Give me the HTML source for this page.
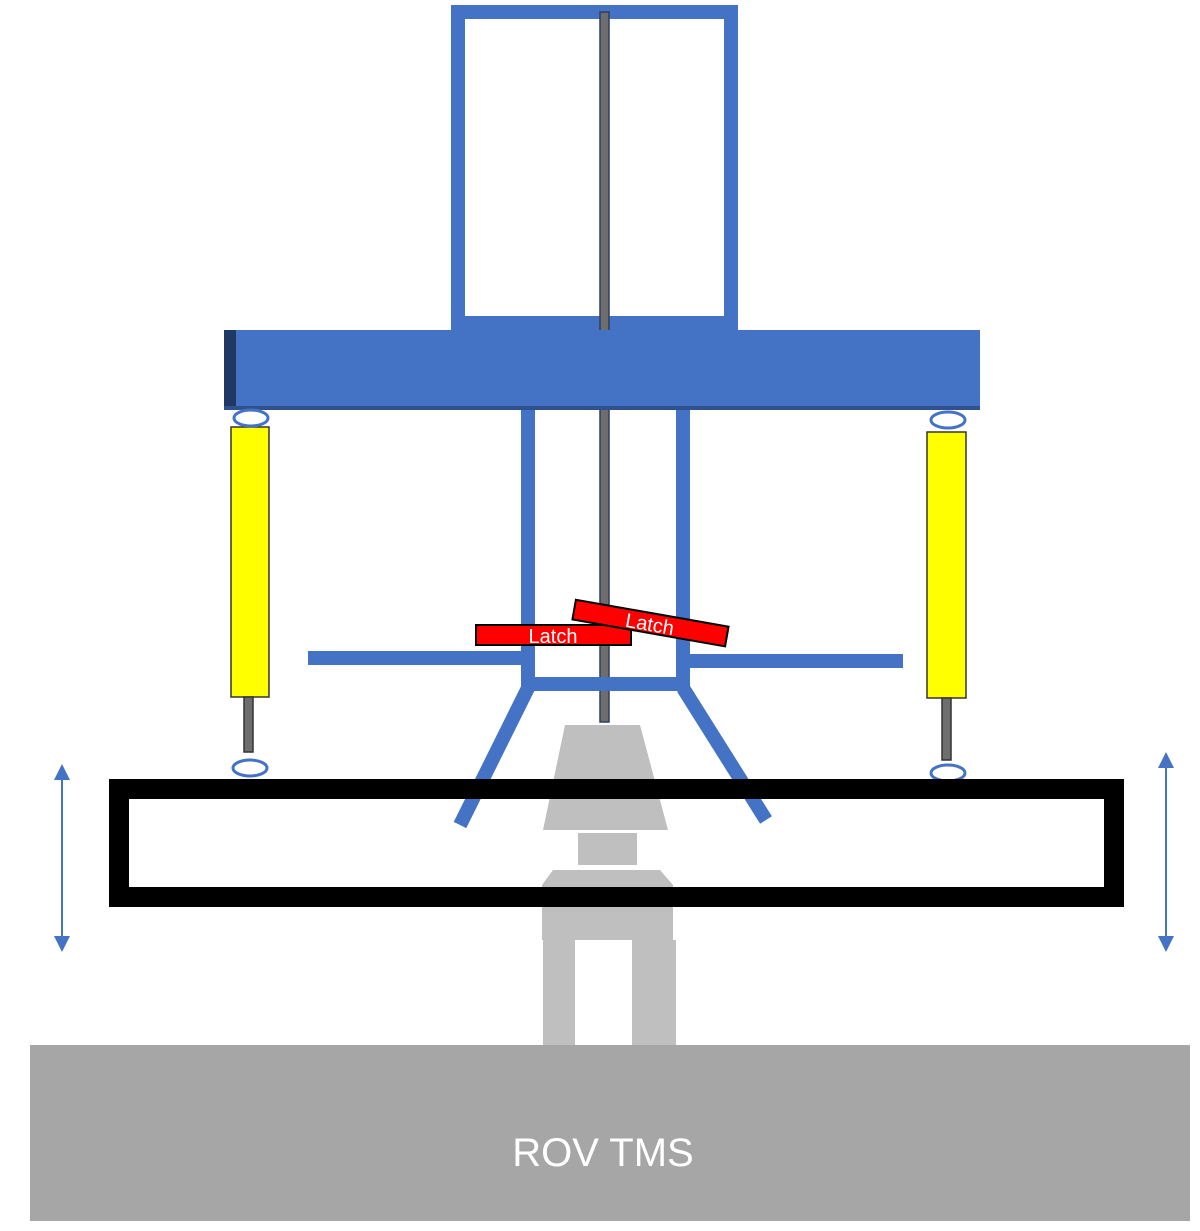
<!DOCTYPE html>
<html><head><style>body{margin:0;background:#fff}svg{display:block}</style></head><body>
<svg width="1200" height="1231" viewBox="0 0 1200 1231" xmlns="http://www.w3.org/2000/svg">
<defs><marker id="ah" markerWidth="8" markerHeight="8" refX="4" refY="4" orient="auto-start-reverse"><path d="M0,0 L8,4 L0,8 z" fill="#4472C4"/></marker></defs>
<!-- ground -->
<rect x="30" y="1045" width="1160" height="176" fill="#A6A6A6"/>
<text x="603" y="1166" font-family="Liberation Sans, sans-serif" font-size="40" fill="#fff" text-anchor="middle">ROV TMS</text>
<!-- gray stack -->
<g fill="#BFBFBF">
<polygon points="565,725 640,725 668,830 543,830"/>
<rect x="578" y="833" width="59" height="32"/>
<polygon points="553,870 660,870 673,885 673,940 542,940 542,885"/>
<rect x="543" y="940" width="32" height="105"/>
<rect x="632" y="940" width="44" height="105"/>
</g>
<!-- top box -->
<rect x="458" y="12" width="273" height="311" fill="none" stroke="#4472C4" stroke-width="14"/>
<!-- rod -->
<rect x="600" y="12" width="9" height="710" fill="#6E6E6E" stroke="#2F3F5F" stroke-width="1.5"/>
<!-- beam -->
<rect x="224" y="330" width="756" height="80" fill="#4472C4"/>
<rect x="224" y="330" width="12" height="80" fill="#1F3864"/>
<rect x="224" y="406" width="756" height="4" fill="#2F528F"/>
<!-- inner frame -->
<g stroke="#4472C4" stroke-width="14" fill="none">
<line x1="528" y1="410" x2="528" y2="690"/>
<line x1="683" y1="410" x2="683" y2="690"/>
<line x1="521" y1="684" x2="690" y2="684"/>
<line x1="528" y1="688" x2="460" y2="825"/>
<line x1="683" y1="688" x2="766" y2="820"/>
<line x1="308" y1="658" x2="528" y2="658"/>
<line x1="683" y1="661" x2="903" y2="661"/>
</g>
<!-- latches -->
<rect x="476" y="625" width="155" height="20" fill="#FF0000" stroke="#000" stroke-width="2"/>
<text x="553" y="643" font-family="Liberation Sans, sans-serif" font-size="20" fill="#fff" text-anchor="middle">Latch</text>
<g transform="rotate(10 650 623)">
<rect x="573" y="613" width="155" height="20" fill="#FF0000" stroke="#000" stroke-width="2"/>
<text x="650" y="631" font-family="Liberation Sans, sans-serif" font-size="20" fill="#fff" text-anchor="middle">Latch</text>
</g>
<!-- cylinders -->
<g stroke="#333" stroke-width="1.5">
<rect x="231" y="427" width="38" height="270" fill="#FFFF00"/>
<rect x="244" y="697" width="9" height="55" fill="#6E6E6E"/>
<rect x="927" y="432" width="39" height="266" fill="#FFFF00"/>
<rect x="942" y="698" width="9" height="62" fill="#6E6E6E"/>
</g>
<g fill="#fff" stroke="#4472C4" stroke-width="3">
<ellipse cx="251" cy="418" rx="17" ry="8"/>
<ellipse cx="250" cy="768" rx="17" ry="8"/>
<ellipse cx="948" cy="420" rx="17" ry="8"/>
<ellipse cx="948" cy="773" rx="17" ry="8"/>
</g>
<!-- black frame -->
<rect x="119" y="789" width="995" height="108" fill="none" stroke="#000" stroke-width="20"/>
<!-- arrows -->
<line x1="62" y1="772" x2="62" y2="944" stroke="#4472C4" stroke-width="2" marker-start="url(#ah)" marker-end="url(#ah)"/>
<line x1="1166" y1="760" x2="1166" y2="944" stroke="#4472C4" stroke-width="2" marker-start="url(#ah)" marker-end="url(#ah)"/>
</svg>
</body></html>
